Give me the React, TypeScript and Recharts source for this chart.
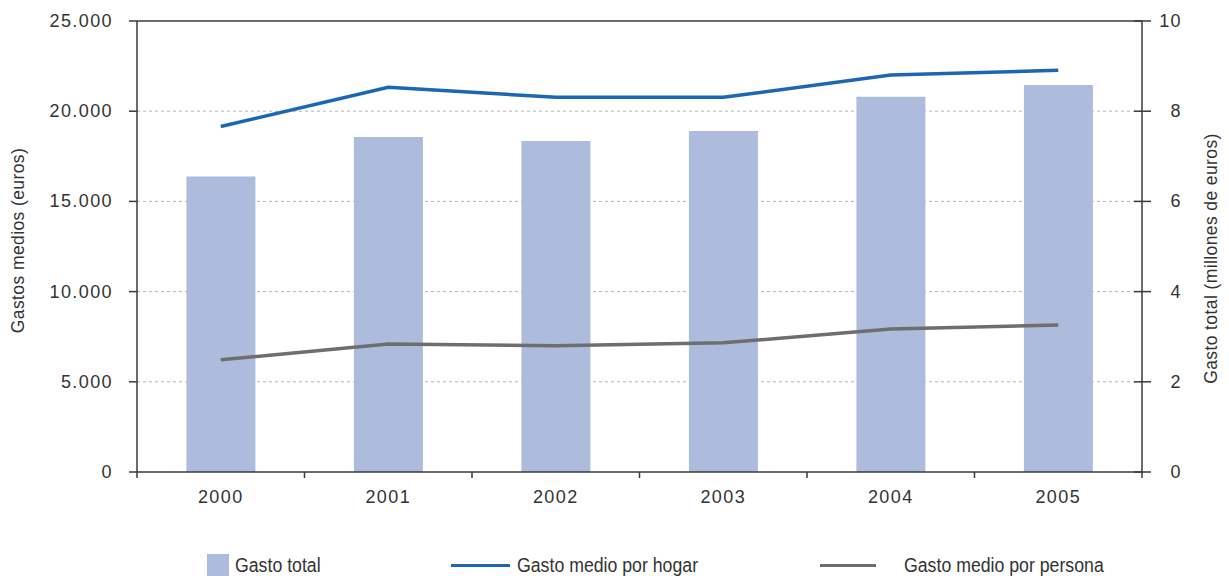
import React from 'react';
import {
  ComposedChart,
  Bar,
  Line,
  XAxis,
  YAxis,
  CartesianGrid,
  ReferenceLine,
} from 'recharts';

const years = ['2000', '2001', '2002', '2003', '2004', '2005'];
// Gasto total (millones de euros) - right axis
const gastoTotal = [6.55, 7.43, 7.34, 7.56, 8.32, 8.58];
// Gasto medio por hogar (euros) - left axis
const gastoHogar = [19150, 21330, 20770, 20770, 22000, 22270];
// Gasto medio por persona (euros) - left axis
const gastoPersona = [6220, 7100, 7000, 7160, 7920, 8150];

const leftTicks = [0, 5000, 10000, 15000, 20000, 25000];
const rightTicks = [0, 2, 4, 6, 8, 10];

const data = years.map((year, i) => ({
  year,
  total: gastoTotal[i],
  hogar: gastoHogar[i],
  persona: gastoPersona[i],
}));

const FONT = '"Liberation Sans", Arial, Helvetica, sans-serif';
const AXIS = '#3a3a3a';
const TEXT = '#333333';
const BAR = '#adbbdd';
const BLUE = '#1b67b4';
const GRAY = '#6e6e6e';

const W = 1229;
const H = 576;
const PLOT_LEFT = 137;
const PLOT_RIGHT = 1142;
const BAND = (PLOT_RIGHT - PLOT_LEFT) / years.length;

const fmt = (v: number) => v.toLocaleString('de-DE');

function LeftTick(props: any) {
  const { x, y, payload } = props;
  return (
    <g>
      <line x1={x} y1={y} x2={x + 8} y2={y} stroke={AXIS} strokeWidth={1.5} />
      <text
        x={x - 16}
        y={y}
        dy={6}
        textAnchor="end"
        fontSize={18}
        letterSpacing={1.4}
        fill={TEXT}
        fontFamily={FONT}
      >
        {fmt(payload.value)}
      </text>
    </g>
  );
}

function RightTick(props: any) {
  const { x, y, payload } = props;
  return (
    <g>
      <line x1={x - 8} y1={y} x2={x + 9} y2={y} stroke={AXIS} strokeWidth={1.5} />
      <text
        x={x + 40}
        y={y}
        dy={6}
        textAnchor="end"
        fontSize={18}
        letterSpacing={1.4}
        fill={TEXT}
        fontFamily={FONT}
      >
        {payload.value}
      </text>
    </g>
  );
}

function BottomTick(props: any) {
  const { x, y, payload, index } = props;
  const left = x - BAND / 2;
  return (
    <g>
      <line x1={left} y1={y} x2={left} y2={y + 6} stroke={AXIS} strokeWidth={1.5} />
      {index === years.length - 1 && (
        <line x1={x + BAND / 2} y1={y} x2={x + BAND / 2} y2={y + 6} stroke={AXIS} strokeWidth={1.5} />
      )}
      <text
        x={x}
        y={y + 25}
        dy={6}
        textAnchor="middle"
        fontSize={18}
        letterSpacing={1.4}
        fill={TEXT}
        fontFamily={FONT}
      >
        {payload.value}
      </text>
    </g>
  );
}

function AxisTitle(props: any) {
  const { viewBox, text, side, shift } = props;
  const cx = side === 'left' ? viewBox.x + 18 : viewBox.x + viewBox.width - 18;
  const cy = viewBox.y + viewBox.height / 2 + shift;
  return (
    <text
      x={cx}
      y={cy}
      dy={6}
      transform={`rotate(-90 ${cx} ${cy})`}
      textAnchor="middle"
      fontSize={17.5}
      letterSpacing={0.4}
      fill={TEXT}
      fontFamily={FONT}
    >
      {text}
    </text>
  );
}

function LegendBar() {
  const item: React.CSSProperties = {
    position: 'absolute',
    top: 554,
    height: 22,
    display: 'flex',
    alignItems: 'center',
    fontFamily: FONT,
    fontSize: 20,
    color: TEXT,
    whiteSpace: 'nowrap',
  };
  // the original legend uses a condensed face; squeeze the regular one
  const label: React.CSSProperties = {
    display: 'inline-block',
    transform: 'scaleX(0.885)',
    transformOrigin: 'left center',
  };
  return (
    <>
      <div style={{ ...item, left: 207 }}>
        <span style={{ width: 22, height: 22, background: BAR, display: 'inline-block', marginRight: 6 }} />
        <span style={label}>Gasto total</span>
      </div>
      <div style={{ ...item, left: 451 }}>
        <span style={{ width: 59, height: 3, background: BLUE, display: 'inline-block', marginRight: 7 }} />
        <span style={label}>Gasto medio por hogar</span>
      </div>
      <div style={{ ...item, left: 820 }}>
        <span style={{ width: 56, height: 3, background: GRAY, display: 'inline-block', marginRight: 28 }} />
        <span style={label}>Gasto medio por persona</span>
      </div>
    </>
  );
}

export default function App() {
  return (
    <div style={{ position: 'absolute', left: 0, top: 0, width: W, height: H, background: '#fff' }}>
      <ComposedChart
        width={W}
        height={H}
        data={data}
        margin={{ top: 21, right: 0, left: 0, bottom: 64 }}
        barCategoryGap="29.5%"
      >
        <CartesianGrid
          vertical={false}
          stroke="#b5b5b5"
          strokeDasharray="3 3"
          yAxisId="left"
          horizontalValues={[5000, 10000, 15000, 20000]}
        />
        <XAxis
          dataKey="year"
          height={40}
          axisLine={{ stroke: AXIS, strokeWidth: 1.5 }}
          tickLine={false}
          tickSize={0}
          tickMargin={0}
          tick={<BottomTick />}
          interval={0}
        />
        <YAxis
          yAxisId="left"
          orientation="left"
          width={PLOT_LEFT}
          domain={[0, 25000]}
          ticks={leftTicks}
          axisLine={{ stroke: AXIS, strokeWidth: 1.5 }}
          tickLine={false}
          tickSize={8}
          tickMargin={0}
          tick={<LeftTick />}
          label={<AxisTitle text="Gastos medios (euros)" side="left" shift={-6} />}
        />
        <YAxis
          yAxisId="right"
          orientation="right"
          width={W - PLOT_RIGHT}
          domain={[0, 10]}
          ticks={rightTicks}
          axisLine={{ stroke: AXIS, strokeWidth: 1.5 }}
          tickLine={false}
          tickSize={0}
          tickMargin={0}
          tick={<RightTick />}
          label={<AxisTitle text="Gasto total (millones de euros)" side="right" shift={12} />}
        />
        <ReferenceLine yAxisId="left" y={25000} stroke={AXIS} strokeWidth={1.5} />
        <Bar yAxisId="right" dataKey="total" fill={BAR} isAnimationActive={false} />
        <Line
          yAxisId="left"
          dataKey="hogar"
          stroke={BLUE}
          strokeWidth={3.5}
          dot={false}
          activeDot={false}
          type="linear"
          isAnimationActive={false}
        />
        <Line
          yAxisId="left"
          dataKey="persona"
          stroke={GRAY}
          strokeWidth={3.5}
          dot={false}
          activeDot={false}
          type="linear"
          isAnimationActive={false}
        />
      </ComposedChart>
      <LegendBar />
    </div>
  );
}
